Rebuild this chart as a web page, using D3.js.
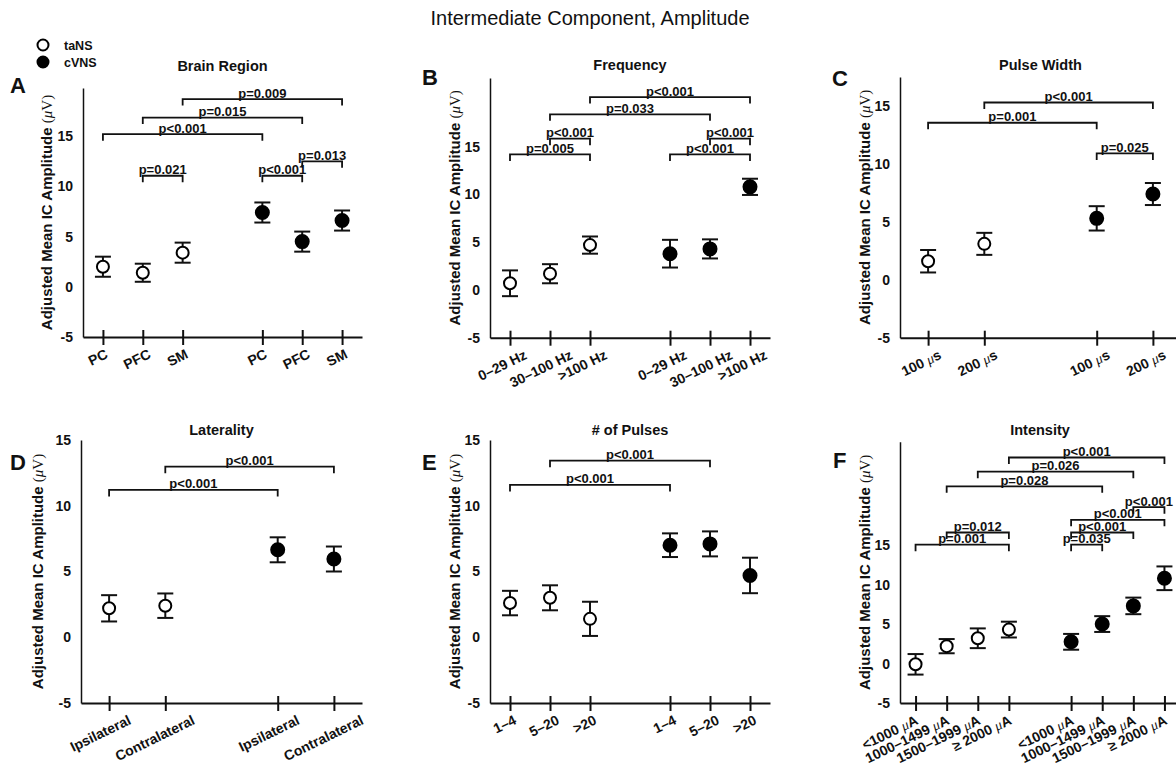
<!DOCTYPE html>
<html>
<head>
<meta charset="utf-8">
<script src="https://cdn.jsdelivr.net/npm/d3@7"></script>
<style>
  body { margin: 0; background: #fff; }
  svg { display: block; }
  text { font-family: "Liberation Sans", Arial, Helvetica, sans-serif; fill: #111; }
</style>
</head>
<body>
<svg id="chart" width="1176" height="769"></svg>
<script>
// ---- data ----
const legendLabels = ["taNS", "cVNS"];
const yTicks = [-5, 0, 5, 10, 15];

// A: brain region
const regionCats = ["PC", "PFC", "SM"];
const regionTaNS = [2.0, 1.4, 3.4];
const regionTaNSErr = [1.0, 0.9, 1.0];
const regionCVNS = [7.4, 4.5, 6.6];
const regionCVNSErr = [1.0, 1.0, 1.0];
// [from slot, to slot, bracket level (uV), label]; slots 0..n-1 taNS, n..2n-1 cVNS
const regionSig = [[2, 5, 18.7, "p=0.009"], [1, 4, 16.85, "p=0.015"], [0, 3, 15.2, "p<0.001"],
                   [1, 2, 11.06, "p=0.021"], [3, 4, 11.06, "p<0.001"], [4, 5, 12.5, "p=0.013"]];

// B: frequency
const freqCats = ["0–29 Hz", "30–100 Hz", ">100 Hz"];
const freqTaNS = [0.7, 1.7, 4.7];
const freqTaNSErr = [1.35, 1.0, 0.9];
const freqCVNS = [3.8, 4.3, 10.8];
const freqCVNSErr = [1.45, 1.0, 0.85];
const freqSig = [[2, 5, 20.2, "p<0.001"], [1, 4, 18.4, "p=0.033"], [1, 2, 15.85, "p<0.001"],
                 [0, 2, 14.2, "p=0.005"], [4, 5, 15.85, "p<0.001"], [3, 5, 14.2, "p<0.001"]];

// C: pulse width
const widthCats = ["100 μs", "200 μs"];
const widthTaNS = [1.6, 3.1];
const widthTaNSErr = [0.97, 0.95];
const widthCVNS = [5.3, 7.4];
const widthCVNSErr = [1.05, 0.95];
const widthSig = [[1, 3, 15.3, "p<0.001"], [0, 2, 13.55, "p=0.001"], [2, 3, 10.9, "p=0.025"]];

// D: laterality
const latCats = ["Ipsilateral", "Contralateral"];
const latTaNS = [2.2, 2.4];
const latTaNSErr = [1.0, 0.93];
const latCVNS = [6.65, 5.95];
const latCVNSErr = [0.95, 0.95];
const latSig = [[1, 3, 12.97, "p<0.001"], [0, 2, 11.2, "p<0.001"]];

// E: number of pulses
const pulseCats = ["1–4", "5–20", ">20"];
const pulseTaNS = [2.6, 3.0, 1.4];
const pulseTaNSErr = [0.93, 0.95, 1.3];
const pulseCVNS = [7.0, 7.1, 4.7];
const pulseCVNSErr = [0.9, 0.95, 1.35];
const pulseSig = [[1, 4, 13.43, "p<0.001"], [0, 3, 11.58, "p<0.001"]];

// F: intensity
const intCats = ["<1000 μA", "1000–1499 μA", "1500–1999 μA", "≥ 2000 μA"];
const intTaNS = [-0.1, 2.2, 3.2, 4.3];
const intTaNSErr = [1.3, 0.9, 1.25, 1.0];
const intCVNS = [2.75, 5.0, 7.3, 10.8];
const intCVNSErr = [1.0, 1.0, 1.05, 1.5];
const intSig = [[3, 7, 26.1, "p<0.001"], [2, 6, 24.3, "p=0.026"], [1, 5, 22.45, "p=0.028"],
                [6, 7, 19.8, "p<0.001"], [4, 7, 18.2, "p<0.001"], [4, 6, 16.6, "p<0.001"],
                [4, 5, 15.06, "p=0.035"], [1, 3, 16.6, "p=0.012"], [0, 3, 15.06, "p=0.001"]];

const svg = d3.select('#chart');
svg.append('rect').attr('width', 1176).attr('height', 769).attr('fill', '#fff');

// main title
svg.append('text')
    .attr('x', 590).attr('y', 25)
    .attr('text-anchor', 'middle')
    .style('font-size', '20px')
    .text('Intermediate Component, Amplitude');

// legend
legendLabels.forEach((lab, i) => {
    svg.append('circle')
        .attr('cx', 43).attr('cy', 45 + i * 17).attr('r', 5.5)
        .attr('fill', i === 0 ? '#fff' : '#000')
        .attr('stroke', '#000').attr('stroke-width', 2);
    svg.append('text')
        .attr('x', 64).attr('y', 49.5 + i * 17)
        .style('font-size', '12.5px').style('font-weight', 'bold')
        .text(lab);
});

// write a label, putting any mu in an italic serif tspan
function richText(sel, s) {
    sel.text(null);
    s.split(/(μ)/).forEach(part => {
        if (!part) return;
        const ts = sel.append('tspan').text(part);
        if (part === 'μ') {
            ts.style('font-family', '"Liberation Serif", "DejaVu Serif", serif')
              .style('font-style', 'italic').style('font-weight', 'normal');
        }
    });
}

function drawPanel(p) {
    const n = p.cats.length;
    const slots = d3.range(n).map(i => i + 1).concat(d3.range(n).map(i => i + n + 2));
    const labels = p.cats.concat(p.cats);
    const values = p.taNS.concat(p.cvns);
    const errs = p.taNSErr.concat(p.cvnsErr);

    const x = d3.scaleLinear().domain([0.5, 2 * n + 1.5]).range([p.left, p.right]);
    const y = d3.scaleLinear().domain([-5, p.yMax]).range([p.bottom, p.top]);

    const g = svg.append('g');

    // y axis
    const yAxis = g.append('g')
        .attr('transform', `translate(${p.left},0)`)
        .call(d3.axisLeft(y).tickValues(yTicks).tickSize(0).tickPadding(10)
            .tickFormat(d => d < 0 ? '-' + Math.abs(d) : String(d)));
    yAxis.select('.domain').attr('stroke', '#111').attr('stroke-width', 1.5);
    yAxis.selectAll('text')
        .style('font-size', '14px').style('font-weight', 'bold')
        .attr('font-family', null);

    // x axis
    const xAxis = g.append('g')
        .attr('transform', `translate(0,${p.bottom})`)
        .call(d3.axisBottom(x).tickValues(slots).tickFormat((d, i) => labels[i]).tickSizeOuter(0));
    xAxis.select('.domain').attr('stroke', '#111').attr('stroke-width', 2);
    xAxis.selectAll('.tick line')
        .attr('y1', -7).attr('y2', 8)
        .attr('stroke', '#111').attr('stroke-width', 2);
    xAxis.selectAll('.tick text')
        .attr('font-family', null)
        .style('font-size', '14px').style('font-weight', 'bold')
        .attr('text-anchor', 'middle')
        .each(function (d, i) {
            const t = d3.select(this);
            richText(t, labels[i]);
            const L = this.getComputedTextLength();
            t.attr('x', 0).attr('y', 0).attr('dy', '0.35em')
             .attr('transform', `translate(${p.lblA - p.lblB * L},${16 + 0.22 * L}) rotate(-26)`);
        });

    // y label
    const yl = g.append('text')
        .attr('transform', `translate(${p.labelX},${(p.top + p.bottom) / 2}) rotate(-90)`)
        .attr('dy', '0.35em')
        .attr('text-anchor', 'middle')
        .style('font-size', '15px');
    yl.append('tspan').style('font-weight', 'bold').text('Adjusted Mean IC Amplitude ');
    yl.append('tspan').style('font-family', '"Liberation Serif", serif').text('(');
    yl.append('tspan').style('font-family', '"Liberation Serif", serif').style('font-style', 'italic').text('μ');
    yl.append('tspan').style('font-family', '"Liberation Serif", serif').text('V)');

    // panel title and letter
    g.append('text')
        .attr('x', (p.left + p.right) / 2).attr('y', p.titleY)
        .attr('text-anchor', 'middle')
        .style('font-size', '14.5px').style('font-weight', 'bold')
        .text(p.title);
    g.append('text')
        .attr('x', p.letterX).attr('y', p.letterY)
        .style('font-size', '22px').style('font-weight', 'bold')
        .text(p.letter);

    // significance brackets
    p.sig.forEach(s => {
        const x1 = x(slots[s[0]]), x2 = x(slots[s[1]]), yy = y(s[2]);
        g.append('path')
            .attr('d', `M${x1},${yy + 6.5}V${yy}H${x2}V${yy + 6.5}`)
            .attr('fill', 'none').attr('stroke', '#111').attr('stroke-width', 1.8);
        g.append('text')
            .attr('x', (x1 + x2) / 2).attr('y', yy - 1.5)
            .attr('text-anchor', 'middle')
            .style('font-size', '13px').style('font-weight', 'bold')
            .text(s[3]);
    });

    // error bars and markers
    const pts = g.selectAll('.pt').data(values.map((v, i) => ({ v, e: errs[i], s: slots[i], filled: i >= n })))
        .join('g').attr('class', 'pt');
    pts.append('line')
        .attr('x1', d => x(d.s)).attr('x2', d => x(d.s))
        .attr('y1', d => y(d.v - d.e)).attr('y2', d => y(d.v + d.e))
        .attr('stroke', '#111').attr('stroke-width', 2);
    [-1, 1].forEach(k => {
        pts.append('line')
            .attr('x1', d => x(d.s) - 8).attr('x2', d => x(d.s) + 8)
            .attr('y1', d => y(d.v + k * d.e)).attr('y2', d => y(d.v + k * d.e))
            .attr('stroke', '#111').attr('stroke-width', 2);
    });
    pts.append('circle')
        .attr('cx', d => x(d.s)).attr('cy', d => y(d.v))
        .attr('r', d => d.filled ? 6.5 : 6)
        .attr('fill', d => d.filled ? '#000' : '#fff')
        .attr('stroke', '#000').attr('stroke-width', 2);
}

const panels = [
    { cats: regionCats, taNS: regionTaNS, taNSErr: regionTaNSErr, cvns: regionCVNS, cvnsErr: regionCVNSErr, sig: regionSig,
      title: 'Brain Region', letter: 'A', left: 83, right: 362, top: 88, bottom: 337, yMax: 19.8,
      labelX: 47, letterX: 10, letterY: 93, titleY: 71, lblA: -4, lblB: 0.08 },
    { cats: freqCats, taNS: freqTaNS, taNSErr: freqTaNSErr, cvns: freqCVNS, cvnsErr: freqCVNSErr, sig: freqSig,
      title: 'Frequency', letter: 'B', left: 490, right: 770, top: 78, bottom: 337.7, yMax: 22.2,
      labelX: 455, letterX: 422, letterY: 85, titleY: 70, lblA: -4, lblB: 0.08 },
    { cats: widthCats, taNS: widthTaNS, taNSErr: widthTaNSErr, cvns: widthCVNS, cvnsErr: widthCVNSErr, sig: widthSig,
      title: 'Pulse Width', letter: 'C', left: 900, right: 1181, top: 77, bottom: 337.7, yMax: 17.5,
      labelX: 865, letterX: 832, letterY: 86, titleY: 70, lblA: -4, lblB: 0.08 },
    { cats: latCats, taNS: latTaNS, taNSErr: latTaNSErr, cvns: latCVNS, cvnsErr: latCVNSErr, sig: latSig,
      title: 'Laterality', letter: 'D', left: 81, right: 362, top: 440, bottom: 703, yMax: 15,
      labelX: 38, letterX: 10, letterY: 470, titleY: 435, lblA: -4, lblB: 0.08 },
    { cats: pulseCats, taNS: pulseTaNS, taNSErr: pulseTaNSErr, cvns: pulseCVNS, cvnsErr: pulseCVNSErr, sig: pulseSig,
      title: '# of Pulses', letter: 'E', left: 490, right: 770, top: 440, bottom: 703, yMax: 15,
      labelX: 455, letterX: 422, letterY: 470, titleY: 435, lblA: -4, lblB: 0.08 },
    { cats: intCats, taNS: intTaNS, taNSErr: intTaNSErr, cvns: intCVNS, cvnsErr: intCVNSErr, sig: intSig,
      title: 'Intensity', letter: 'F', left: 900, right: 1180, top: 441.7, bottom: 703, yMax: 28.1,
      labelX: 865, letterX: 833, letterY: 468, titleY: 435, lblA: 1, lblB: 0.45 }
];

panels.forEach(drawPanel);
</script>
</body>
</html>
